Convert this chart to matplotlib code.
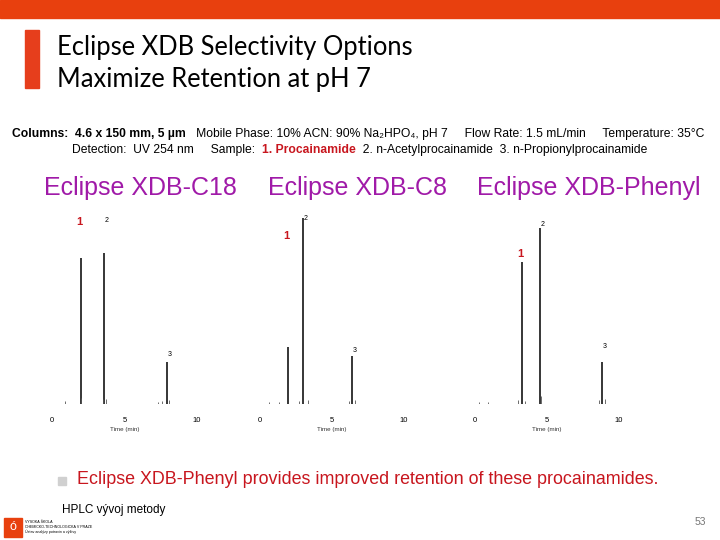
import matplotlib.pyplot as plt
from matplotlib.patches import Rectangle

W, H = 720, 540
orange = '#e8400e'
purple = '#a01aa8'
red = '#c8161e'

# chromatogram data: retention time (min) and peak response
columns = ['Eclipse XDB-C18', 'Eclipse XDB-C8', 'Eclipse XDB-Phenyl']
peak_times = [[2.0, 3.6, 7.9], [1.95, 3.0, 6.4], [3.25, 4.5, 8.8]]
peak_heights = [[146, 151, 42], [57, 186, 48], [142, 176, 42]]
label_heights = [[182, 183, 50], [168, 185, 54], [150, 180, 57]]
minor_times = [[0.9, 2.0, 3.5, 3.7, 7.3, 7.6, 8.1], [0.6, 1.3, 2.7, 3.3, 6.2, 6.6],
               [0.3, 0.9, 3.0, 3.5, 4.6, 8.6, 9.0]]
minor_heights = [[3, 6, 5, 5, 2, 3, 4], [2, 2, 3, 4, 3, 4], [2, 2, 4, 3, 8, 4, 5]]
peak_labels = ['1', '2', '3']
ticks = [0, 5, 10]

fig = plt.figure(figsize=(7.2, 5.4), dpi=100)
plt.rcParams['font.family'] = ['Liberation Sans', 'DejaVu Sans']


def fx(x):
    return x / W


def fy(y):
    return 1 - y / H


def put(x, y, s, **kw):
    return fig.text(fx(x), fy(y), s, **kw)


# slide header
fig.patches.append(Rectangle((0, fy(18)), 1, 18 / H, transform=fig.transFigure,
                             color=orange, zorder=0))
fig.patches.append(Rectangle((fx(25), fy(88)), 14 / W, 58 / H, transform=fig.transFigure,
                             color='#e63e1c', zorder=0))
put(57, 48, 'Eclipse XDB Selectivity Options', family='Lato', fontsize=18.4, va='center')
put(57, 79, 'Maximize Retention at pH 7', family='Lato', fontsize=18.4, va='center')

# conditions lines, drawn piece by piece
renderer = fig.canvas.get_renderer()


def put_row(x, y, pieces):
    for s, kw in pieces:
        t = put(x, y, s, va='center', fontsize=8.7, **kw)
        x += t.get_window_extent(renderer).width


put_row(12, 134, [('Columns:  4.6 x 150 mm, 5 µm', {'weight': 'bold'}),
                  ('   Mobile Phase: 10% ACN: 90% Na₂HPO₄, pH 7     Flow Rate: 1.5 mL/min'
                   '     Temperature: 35°C', {})])
put_row(72, 150, [('Detection:  UV 254 nm     Sample:  ', {}),
                  ('1. Procainamide', {'weight': 'bold', 'color': red}),
                  ('  2. n-Acetylprocainamide  3. n-Propionylprocainamide', {})])

# chromatograms
zero_px = [52, 260, 475]
scale = [14.5, 14.4, 14.4]
title_x = [140, 358, 589]
base_y = 404
for i in range(3):
    s = scale[i]
    ax = fig.add_axes([fx(zero_px[i] - 0.5 * s), fy(base_y), 11.5 * s / W, 200 / H])
    ax.set_xlim(-0.5, 11)
    ax.set_ylim(0, 200)
    ax.vlines(peak_times[i], 0, peak_heights[i], color='black', lw=1.1)
    ax.vlines(minor_times[i], 0, minor_heights[i], color='#555555', lw=0.6)
    ax.hlines(0, 0.3, 10.2, color='#cccccc', lw=0.6, linestyles=':')
    for t, h, lab in zip(peak_times[i], label_heights[i], peak_labels):
        if lab == '1':
            ax.text(t - 0.1, h, lab, color=red, fontsize=8, weight='bold',
                    ha='center', va='center')
        else:
            ax.text(t + 0.2, h, lab, fontsize=5, ha='center', va='center')
    ax.set_xticks(ticks)
    ax.tick_params(axis='x', length=0, pad=9, labelsize=5.5)
    ax.set_yticks([])
    for sp in ax.spines.values():
        sp.set_visible(False)
    ax.patch.set_alpha(0)
    put(zero_px[i] + 5 * s, 430, 'Time (min)', fontsize=4.5, ha='center', va='center',
        color='#333333')
    put(title_x[i], 188, columns[i], fontsize=18, color=purple, ha='center', va='center')

# bullet and footer
fig.patches.append(Rectangle((fx(58), fy(485)), 8 / W, 8 / H, transform=fig.transFigure,
                             color='#d0d0d0'))
put(77, 480, 'Eclipse XDB-Phenyl provides improved retention of these procainamides.',
    fontsize=12.9, color=red, va='center')
put(62, 510, 'HPLC vývoj metody', fontsize=8.5, va='center')
put(700, 522, '53', fontsize=7.5, color='#777777', ha='center', va='center')
fig.patches.append(Rectangle((fx(4), fy(537)), 18 / W, 19 / H, transform=fig.transFigure,
                             color=orange))
put(13, 527, 'ó', fontsize=9, color='white', ha='center', va='center')
put(25, 527, 'VYSOKÁ ŠKOLA\nCHEMICKO-TECHNOLOGICKÁ V PRAZE\nÚstav analýzy potravin a výživy',
    fontsize=2.6, va='center', linespacing=1.3)

fig.savefig('out.png', dpi=100)
